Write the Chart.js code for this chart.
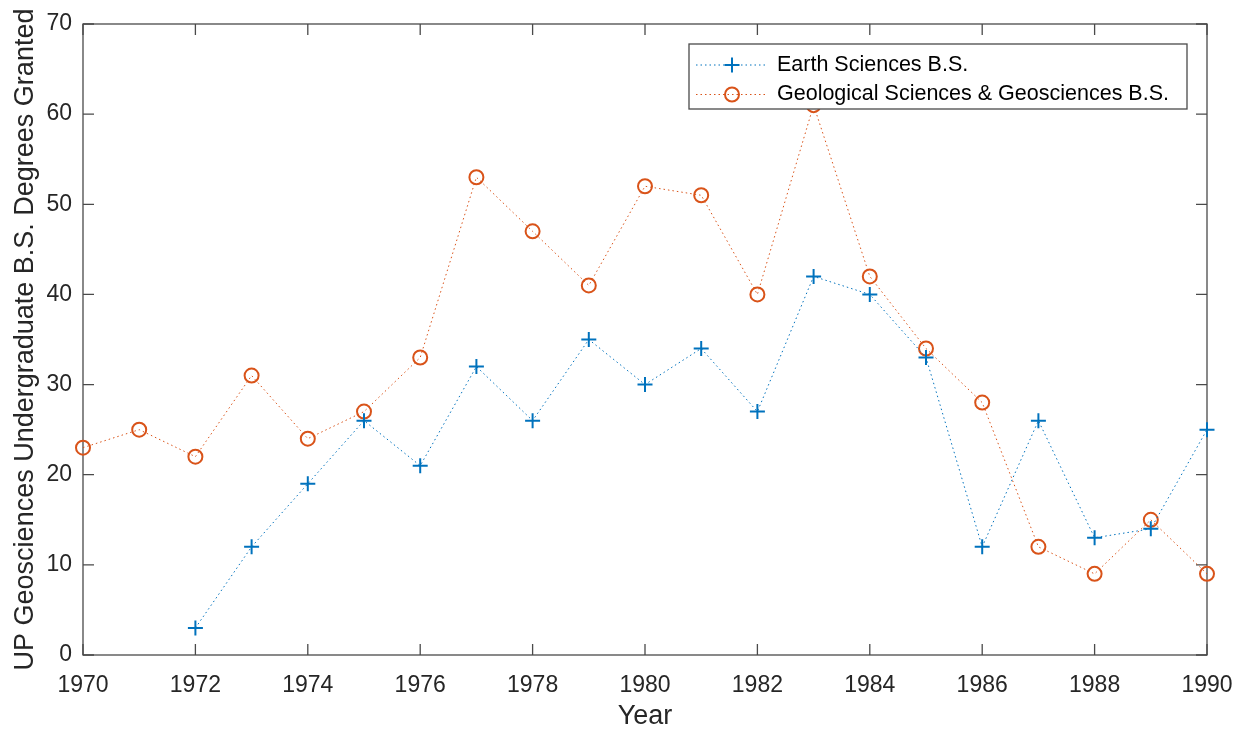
<!DOCTYPE html>
<html>
<head>
<meta charset="utf-8">
<script src="https://cdn.jsdelivr.net/npm/chart.js@4/dist/chart.umd.min.js"></script>
<style>
  html, body { margin: 0; padding: 0; background: #fff; }
  #wrap { width: 1241px; height: 731px; }
</style>
</head>
<body>
<div id="wrap"><canvas id="chart" width="1241" height="731"></canvas></div>
<script>
// ── Data ──────────────────────────────────────────────────────────────────────
const years      = [1970, 1971, 1972, 1973, 1974, 1975, 1976, 1977, 1978, 1979, 1980,
                    1981, 1982, 1983, 1984, 1985, 1986, 1987, 1988, 1989, 1990];
const earthSci   = [null, null, 3, 12, 19, 26, 21, 32, 26, 35, 30,
                    34, 27, 42, 40, 33, 12, 26, 13, 14, 25];
const geoSci     = [23, 25, 22, 31, 24, 27, 33, 53, 47, 41, 52,
                    51, 40, 61, 42, 34, 28, 12, 9, 15, 9];
const xTicks     = [1970, 1972, 1974, 1976, 1978, 1980, 1982, 1984, 1986, 1988, 1990];
const yTicks     = [0, 10, 20, 30, 40, 50, 60, 70];
const seriesNames = ["Earth Sciences B.S.", "Geological Sciences & Geosciences B.S."];

const BLUE = "#0072BD";
const ORANGE = "#D95319";
const AXIS = "#4a4a4a";
const FONT = "'Liberation Sans', Arial, Helvetica, sans-serif";

function pairs(vals) {
  return years.map((y, i) => ({ x: y, y: vals[i] })).filter(p => p.y != null);
}

// ── MATLAB-style box, inward ticks and inside legend ─────────────────────────
const matlabAxes = {
  id: "matlabAxes",
  beforeDatasetsDraw(chart) {
    const { ctx, chartArea: a, scales: { x, y } } = chart;
    const tl = 11;
    ctx.save();
    ctx.strokeStyle = AXIS;
    ctx.lineWidth = 1.3;
    ctx.strokeRect(a.left, a.top, a.right - a.left, a.bottom - a.top);
    ctx.beginPath();
    xTicks.forEach(v => {
      const px = x.getPixelForValue(v);
      ctx.moveTo(px, a.bottom); ctx.lineTo(px, a.bottom - tl);
      ctx.moveTo(px, a.top);    ctx.lineTo(px, a.top + tl);
    });
    yTicks.forEach(v => {
      const py = y.getPixelForValue(v);
      ctx.moveTo(a.left, py);  ctx.lineTo(a.left + tl, py);
      ctx.moveTo(a.right, py); ctx.lineTo(a.right - tl, py);
    });
    ctx.stroke();
    ctx.restore();
  },
  afterDraw(chart) {
    const { ctx } = chart;
    const box = { x: 689, y: 44, w: 498, h: 65 };
    ctx.save();
    ctx.fillStyle = "#fff";
    ctx.fillRect(box.x, box.y, box.w, box.h);
    ctx.strokeStyle = AXIS;
    ctx.lineWidth = 1.3;
    ctx.strokeRect(box.x, box.y, box.w, box.h);

    const rows = [65, 94.5];
    const colors = [BLUE, ORANGE];
    rows.forEach((ry, i) => {
      ctx.strokeStyle = colors[i];
      ctx.lineWidth = 1;
      ctx.setLineDash([1.5, 3]);
      ctx.beginPath();
      ctx.moveTo(696, ry); ctx.lineTo(766, ry);
      ctx.stroke();
      ctx.setLineDash([]);
      ctx.lineWidth = 2;
      ctx.beginPath();
      if (i === 0) {
        ctx.moveTo(732 - 7.5, ry); ctx.lineTo(732 + 7.5, ry);
        ctx.moveTo(732, ry - 7.5); ctx.lineTo(732, ry + 7.5);
      } else {
        ctx.arc(732, ry, 7, 0, Math.PI * 2);
      }
      ctx.stroke();
      ctx.fillStyle = "#000";
      ctx.font = `21.5px ${FONT}`;
      ctx.textBaseline = "middle";
      ctx.textAlign = "left";
      ctx.fillText(seriesNames[i], 777, ry);
    });
    ctx.restore();
  },
};

// ── Chart ─────────────────────────────────────────────────────────────────────
new Chart(document.getElementById("chart").getContext("2d"), {
  type: "line",
  data: {
    datasets: [
      {
        label: seriesNames[0], data: pairs(earthSci),
        borderColor: BLUE, borderWidth: 1, borderDash: [1.5, 3],
        pointStyle: "cross", pointRadius: 7.5, pointBorderWidth: 2,
        pointBorderColor: BLUE, pointBackgroundColor: "rgba(0,0,0,0)",
        tension: 0, clip: false,
      },
      {
        label: seriesNames[1], data: pairs(geoSci),
        borderColor: ORANGE, borderWidth: 1, borderDash: [1.5, 3],
        pointStyle: "circle", pointRadius: 7, pointBorderWidth: 2,
        pointBorderColor: ORANGE, pointBackgroundColor: "rgba(0,0,0,0)",
        tension: 0, clip: false,
      },
    ],
  },
  options: {
    responsive: false,
    animation: false,
    devicePixelRatio: 1,
    layout: { padding: { left: 0, right: 34, top: 24, bottom: 0 } },
    plugins: { legend: { display: false }, tooltip: { enabled: false } },
    scales: {
      x: {
        type: "linear", min: 1970, max: 1990,
        grid: { display: false, drawTicks: false },
        border: { display: false },
        afterBuildTicks: s => { s.ticks = xTicks.map(v => ({ value: v })); },
        afterFit: s => { s.height = 76; s.paddingLeft = 0; s.paddingRight = 0; },
        ticks: {
          color: "#262626", padding: 17, maxRotation: 0,
          font: { family: FONT, size: 23 },
          callback: v => String(v),
        },
        title: {
          display: true, text: "Year", color: "#262626",
          font: { family: FONT, size: 27, lineHeight: 1 },
          padding: { top: 0, bottom: 1 },
        },
      },
      y: {
        min: 0, max: 70,
        grid: { display: false, drawTicks: false },
        border: { display: false },
        afterBuildTicks: s => { s.ticks = yTicks.map(v => ({ value: v })); },
        afterFit: s => { s.width = 83; s.paddingTop = 0; s.paddingBottom = 0; },
        ticks: {
          color: "#262626", padding: 11,
          font: { family: FONT, size: 23 },
        },
        title: {
          display: true, text: "UP Geosciences Undergraduate B.S. Degrees Granted", color: "#262626",
          font: { family: FONT, size: 27, lineHeight: 1 },
          padding: { top: 12, bottom: 0 },
        },
      },
    },
  },
  plugins: [matlabAxes],
});
</script>
</body>
</html>
